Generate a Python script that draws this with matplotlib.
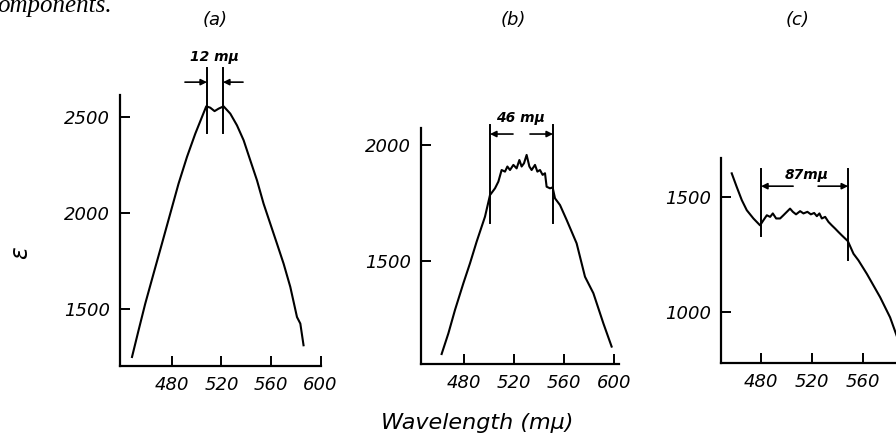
import matplotlib
matplotlib.use('Agg')
import matplotlib.pyplot as plt

# panel (a)
wl_a = [447.7, 453.0, 458.4, 465.1, 471.9, 478.6, 485.3, 492.1, 498.8, 504.2,
        507.7, 510.9, 514.4, 517.7, 521.7, 527.1, 532.5, 537.9, 543.3, 548.7,
        554.0, 559.4, 564.8, 570.2, 575.6, 581.0, 583.7, 586.3]
eps_a = [1250, 1389, 1528, 1684, 1841, 1997, 2153, 2292, 2413, 2500,
         2556, 2549, 2531, 2544, 2556, 2518, 2457, 2379, 2274, 2170,
         2049, 1945, 1841, 1736, 1615, 1458, 1424, 1311]

# panel (b)
wl_b = [462.1, 467.5, 472.8, 479.5, 484.8, 490.1, 496.8, 500.8, 504.8, 507.5,
        510.1, 512.8, 514.7, 516.8, 519.5, 522.1, 524.3, 526.1, 528.0, 530.1,
        532.3, 534.1, 536.8, 538.7, 540.8, 542.9, 544.8, 546.1, 548.8, 550.9,
        552.8, 556.8, 562.1, 570.1, 576.8, 583.5, 591.5, 598.1]
eps_b = [1099, 1188, 1289, 1404, 1490, 1583, 1691, 1784, 1813, 1842,
         1892, 1885, 1907, 1892, 1914, 1899, 1935, 1907, 1921, 1957,
         1907, 1892, 1914, 1885, 1892, 1871, 1878, 1820, 1813, 1817,
         1770, 1741, 1677, 1576, 1432, 1361, 1231, 1131]

# panel (c)
wl_c = [457.0, 460.9, 464.9, 468.8, 474.0, 479.2, 481.8, 484.5, 487.1, 489.2,
        491.8, 494.9, 497.5, 500.2, 502.7, 504.9, 507.4, 510.6, 513.2, 516.3,
        519.0, 521.6, 523.7, 525.7, 527.6, 530.2, 532.8, 535.4, 538.0, 540.6,
        543.3, 548.0, 552.4, 556.3, 562.9, 573.3, 581.1, 585.8, 588.5]
eps_c = [1604, 1545, 1487, 1443, 1407, 1377, 1399, 1421, 1414, 1429,
         1407, 1407, 1421, 1436, 1450, 1436, 1425, 1439, 1429, 1436,
         1425, 1431, 1417, 1429, 1407, 1414, 1392, 1377, 1363, 1348,
         1333, 1308, 1253, 1224, 1165, 1063, 975, 902, 860]

xticks = [480, 520, 560, 600]
yticks_a = [1500, 2000, 2500]
yticks_b = [1500, 2000]
yticks_c = [1000, 1500]

# band-width markers: lines, their top/bottoms, arrow height, arrow tails, label
band_a = dict(x=(508.3, 521.2), top=2755, bottom=(2417, 2417), ya=2682,
              tails=(490.5, 537.4), label='12 m\u03bc', lx=514.7, ly=2812)
band_b = dict(x=(500.8, 551.2), top=2086, bottom=(1664, 1664), ya=2047,
              tails=(519.2, 532.8), label='46 m\u03bc', lx=524.8, ly=2116)
band_c = dict(x=(480.0, 548.2), top=1622, bottom=(1329, 1224), ya=1548,
              tails=(505.1, 524.7), label='87m\u03bc', lx=516.1, ly=1596)

W, H = 896, 440
FONT = 'DejaVu Sans'


def px_axes(fig, left, right, top, bottom):
    return fig.add_axes([left / W, (H - bottom) / H, (right - left) / W,
                         (bottom - top) / H])


def draw_panel(ax, wl, eps, xlim, ylim, yticks, band):
    ax.plot(wl, eps, color='black', lw=1.5, solid_joinstyle='round')
    ax.set_xlim(*xlim)
    ax.set_ylim(*ylim)
    ax.set_xticks(xticks)
    ax.set_yticks(yticks)
    for s in ['top', 'right']:
        ax.spines[s].set_visible(False)
    for s in ['left', 'bottom']:
        ax.spines[s].set_linewidth(1.6)
    ax.tick_params(direction='in', length=7, width=1.4, labelsize=13, pad=7)
    for lab in ax.get_xticklabels() + ax.get_yticklabels():
        lab.set_fontstyle('italic')
        lab.set_family(FONT)

    for x, b in zip(band['x'], band['bottom']):
        ax.plot([x, x], [b, band['top']], color='black', lw=1.4, clip_on=False)
    for head, tail in zip(band['x'], band['tails']):
        ax.annotate('', xy=(head, band['ya']), xytext=(tail, band['ya']),
                    arrowprops=dict(arrowstyle='-|>', color='black', lw=1.2,
                                    mutation_scale=9, shrinkA=0, shrinkB=0),
                    annotation_clip=False)
    ax.text(band['lx'], band['ly'], band['label'], ha='center', va='center',
            fontsize=10, fontstyle='italic', fontweight='bold', family=FONT,
            clip_on=False)


fig = plt.figure(figsize=(W / 100, H / 100), dpi=100)

ax_a = px_axes(fig, 120, 320.5, 95, 366)
draw_panel(ax_a, wl_a, eps_a, (438, 600), (1203, 2615), yticks_a, band_a)

ax_b = px_axes(fig, 421, 619, 128, 364)
draw_panel(ax_b, wl_b, eps_b, (445.6, 604), (1056, 2073), yticks_b, band_b)

ax_c = px_axes(fig, 721, 927, 158, 363)
draw_panel(ax_c, wl_c, eps_c, (448.6, 610), (776, 1671), yticks_c, band_c)

for name, x in [('(a)', 215), ('(b)', 513), ('(c)', 798)]:
    fig.text(x / W, 1 - 20 / H, name, ha='center', va='center', fontsize=13,
             fontstyle='italic', family=FONT)

fig.text(20 / W, 1 - 253 / H, '\u03b5', rotation=90, ha='center', va='center',
         fontsize=17, fontstyle='italic', family=FONT)
fig.text(477 / W, 1 - 423 / H, 'Wavelength (m\u03bc)', ha='center', va='center',
         fontsize=16, fontstyle='italic', family=FONT)
# caption fragment cut by the top edge of the scan
fig.text(-3 / W, 1 - 12 / H, 'omponents.', ha='left', va='baseline',
         fontsize=18, fontstyle='italic', family='Liberation Serif')

fig.savefig('out.png', dpi=100)
